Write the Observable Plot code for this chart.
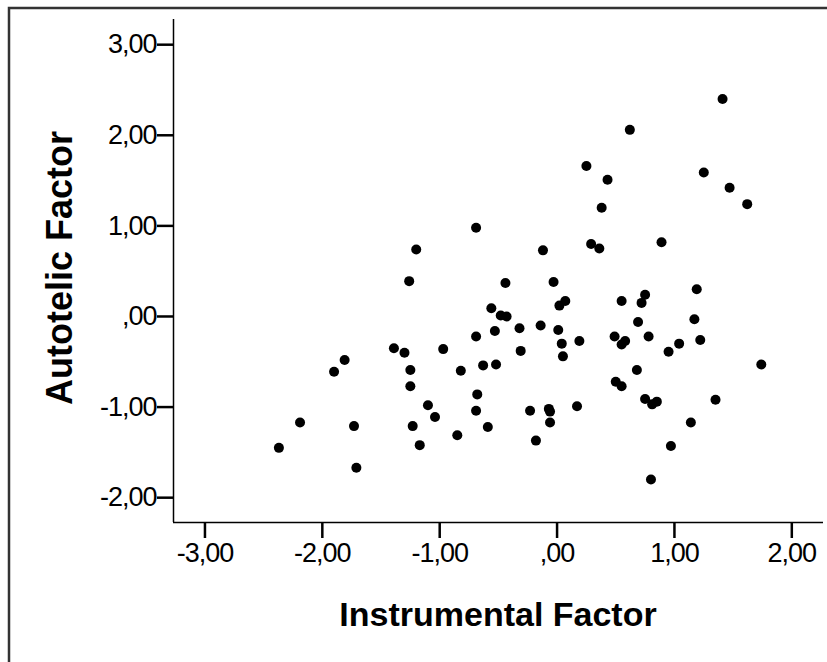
<!DOCTYPE html>
<html>
<head>
<meta charset="utf-8">
<script src="https://cdn.jsdelivr.net/npm/d3@7"></script>
<script src="https://cdn.jsdelivr.net/npm/@observablehq/plot@0.6"></script>
<style>
  html, body { margin: 0; padding: 0; background: white; overflow: hidden; }
  #chart svg { display: block; }
</style>
</head>
<body>
<div id="chart"></div>
<script>
const xLabel = "Instrumental Factor";
const yLabel = "Autotelic Factor";
const xTicks = [-3, -2, -1, 0, 1, 2];
const yTicks = [-2, -1, 0, 1, 2, 3];
const xDomain = [-3.268, 2.27];
const yDomain = [-2.274, 3.278];

const instrumental = [
  -1.20, -1.26,
  1.41, 0.62, 0.25, 0.43, 1.25, 1.47, 1.62, 0.38, -0.69, -0.12, 0.29, 0.36, 0.89,
  -0.44, -0.03, 1.19, -0.56, -0.48, -0.43, 0.02, 0.07, 0.55, 0.75, 0.72,
  -0.53, -0.32, -0.14, 0.01, 0.69, 1.17, -0.69,
  -0.97, 0.04, 0.19, 0.49, 0.55, 0.58, 0.78, 1.04, 1.22, 0.95, -0.31, 0.05,
  -0.82, -0.63, -0.52, 0.68, 0.50, 0.55, 1.74, -0.68, -0.69, -0.59, -0.85,
  -1.04, -0.23, -0.07, -0.06, -0.06, -0.18, 0.17, 0.75, 0.81, 0.85, 1.35,
  1.14, 0.97, 0.80,
  -1.39, -1.30, -1.25, -1.25, -1.81, -1.90, -2.19, -2.37, -1.73, -1.71,
  -1.10, -1.23, -1.17
];
const autotelic = [
  0.74, 0.39,
  2.40, 2.06, 1.66, 1.51, 1.59, 1.42, 1.24, 1.20, 0.98, 0.73, 0.80, 0.75, 0.82,
  0.37, 0.38, 0.30, 0.09, 0.01, 0.00, 0.12, 0.17, 0.17, 0.24, 0.15,
  -0.16, -0.13, -0.10, -0.15, -0.06, -0.03, -0.22,
  -0.36, -0.30, -0.27, -0.22, -0.31, -0.27, -0.22, -0.30, -0.26, -0.39, -0.38, -0.44,
  -0.60, -0.54, -0.53, -0.59, -0.72, -0.77, -0.53, -0.86, -1.04, -1.22, -1.31,
  -1.11, -1.04, -1.02, -1.05, -1.17, -1.37, -0.99, -0.91, -0.97, -0.94, -0.92,
  -1.17, -1.43, -1.80,
  -0.35, -0.40, -0.59, -0.77, -0.48, -0.61, -1.17, -1.45, -1.21, -1.67,
  -0.98, -1.21, -1.42
];

const points = instrumental.map((x, i) => ({x, y: autotelic[i]}));

const fmt = d => {
  const s = d.toFixed(2).replace(".", ",");
  return s.replace(/^(-?)0,/, "$1,");
};

const plot = Plot.plot({
  width: 827,
  height: 662,
  marginLeft: 173,
  marginRight: 4,
  marginTop: 19,
  marginBottom: 140,
  style: { fontFamily: "'Liberation Sans', Arial, sans-serif", background: "white", color: "black" },
  x: { domain: xDomain },
  y: { domain: yDomain },
  marks: [
    Plot.axisX({ ticks: xTicks, tickFormat: fmt, tickSize: 16, tickPadding: 4, fontSize: 27, strokeWidth: 2.5, label: null }),
    Plot.axisY({ ticks: yTicks, tickFormat: fmt, tickSize: 16, tickPadding: 1, fontSize: 27, strokeWidth: 2.5, label: null }),
    Plot.ruleX([xDomain[0]], { stroke: "black", strokeWidth: 1.5 }),
    Plot.ruleY([yDomain[0]], { stroke: "black", strokeWidth: 1.5 }),
    Plot.dot(points, { x: "x", y: "y", r: 5, fill: "black", stroke: "none" })
  ]
});

const svg = d3.select(plot);
svg.selectAll('g[aria-label="x-axis tick label"], g[aria-label="y-axis tick label"]')
  .style("font-size", "27px").style("letter-spacing", "-1px");
svg.append("rect")
  .attr("x", 9).attr("y", 8).attr("width", 900).attr("height", 900)
  .attr("fill", "none").attr("stroke", "#333").attr("stroke-width", 2.5);
svg.append("text")
  .attr("x", 498).attr("y", 626)
  .attr("text-anchor", "middle")
  .style("font-size", "34px").style("font-weight", "bold")
  .attr("font-family", "'Liberation Sans', Arial, sans-serif")
  .attr("fill", "black")
  .text(xLabel);
svg.append("text")
  .attr("transform", "translate(72,268) rotate(-90)")
  .attr("text-anchor", "middle")
  .style("font-size", "36px").style("font-weight", "bold")
  .attr("font-family", "'Liberation Sans', Arial, sans-serif")
  .attr("fill", "black")
  .text(yLabel);

document.getElementById("chart").appendChild(plot);
</script>
</body>
</html>
